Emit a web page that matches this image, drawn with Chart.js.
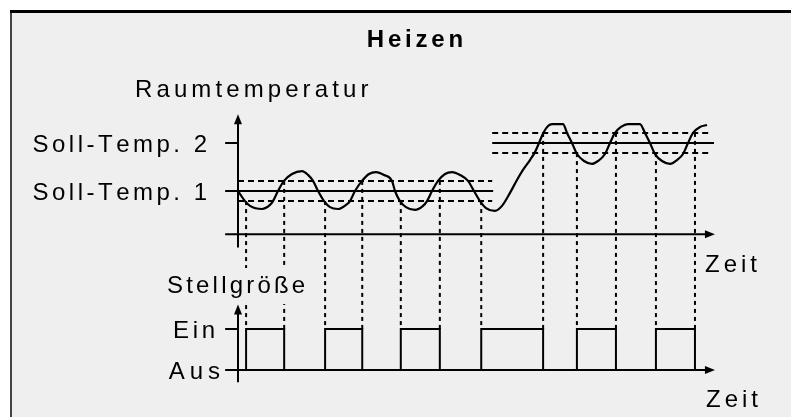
<!DOCTYPE html>
<html><head><meta charset="utf-8">
<script src="https://cdn.jsdelivr.net/npm/chart.js@4"></script>
<style>html,body{margin:0;padding:0;background:#fff;overflow:hidden}#wrap{width:791px;height:417px}</style>
</head><body><div id="wrap"><canvas id="c" width="791" height="417"></canvas></div>
<script>
// ---- text ----
const titleText = 'Heizen';
const tempAxisLabel = 'Raumtemperatur';
const signalAxisLabel = 'Stellgröße';
const timeAxisLabel = 'Zeit';
const setpointLabels = ['Soll-Temp. 1', 'Soll-Temp. 2'];
const signalLabels = ['Aus', 'Ein'];
const signalLevels = [0, 1];

// ---- setpoints (°C) and their time spans ----
const setpoints = [20, 22];
const setpointFrom = [0, 53.4];
const setpointTo = [53.6, 100];
const bandTo = [53.4, 99.2];
const hysteresis = 0.42;

// ---- room temperature curve ----
const curveTime = [0, 1.47, 2.52, 5.04, 6.72, 7.35, 8.40, 9.66, 11.34, 13.45, 14.71, 15.76, 16.81, 18.07, 19.33, 21.01, 22.69, 23.53, 24.58, 26.05, 27.52, 28.99, 30.67, 32.35, 32.98, 34.03, 35.29, 37.18, 38.87, 39.71, 40.76, 42.02, 43.49, 44.96, 46.64, 48.32, 49.58, 50.84, 52.10, 53.99, 55.46, 57.14, 58.61, 59.87, 61.34, 62.39, 63.24, 64.08, 65.13, 65.97, 68.28, 69.12, 70.17, 71.22, 72.69, 74.37, 75.63, 77.10, 78.15, 79.20, 80.46, 81.93, 84.45, 85.50, 86.55, 87.61, 89.08, 90.76, 92.23, 93.49, 94.54, 95.59, 97.06, 98.53];
const curveTemp = [20.00, 19.58, 19.38, 19.25, 19.42, 19.58, 20.00, 20.42, 20.71, 20.83, 20.67, 20.42, 20.00, 19.58, 19.33, 19.25, 19.42, 19.58, 20.00, 20.42, 20.71, 20.79, 20.67, 20.42, 20.00, 19.58, 19.33, 19.21, 19.38, 19.58, 20.00, 20.42, 20.71, 20.79, 20.67, 20.42, 20.00, 19.58, 19.29, 19.17, 19.38, 19.92, 20.46, 20.88, 21.29, 21.62, 22.00, 22.40, 22.71, 22.79, 22.79, 22.42, 22.00, 21.54, 21.25, 21.13, 21.25, 21.54, 22.00, 22.42, 22.67, 22.79, 22.79, 22.42, 22.00, 21.54, 21.25, 21.13, 21.29, 21.54, 22.00, 22.42, 22.67, 22.75];

// ---- control signal (Stellgröße) switching ----
const switchTime = [1.7, 9.7, 18.3, 26.1, 34.2, 42.4, 51.1, 64.1, 71.2, 79.4, 87.8, 96.0];
const switchState = [1, 0, 1, 0, 1, 0, 1, 0, 1, 0, 1, 0];

// ---- build datasets ----
const pts = (xs, ys) => xs.map((x, i) => ({x, y: ys[i]}));
const ink = '#000';
const datasets = [];
setpoints.forEach((sp, i) => {
  [-hysteresis, hysteresis].forEach(off => datasets.push({
    data: [{x: setpointFrom[i], y: sp + off}, {x: bandTo[i], y: sp + off}],
    yAxisID: 'yT', borderColor: ink, borderWidth: 2, borderDash: [6, 4], pointRadius: 0
  }));
  datasets.push({
    data: [{x: setpointFrom[i], y: sp}, {x: setpointTo[i], y: sp}],
    yAxisID: 'yT', borderColor: ink, borderWidth: 2, pointRadius: 0
  });
});
datasets.push({
  data: pts(curveTime, curveTemp), yAxisID: 'yT', borderColor: ink, borderWidth: 2.2,
  pointRadius: 0, cubicInterpolationMode: 'monotone'
});
datasets.push({
  data: [{x: 0, y: 0}].concat(pts(switchTime, switchState)), yAxisID: 'yS',
  borderColor: ink, borderWidth: 2, pointRadius: 0, stepped: 'before'
});

// ---- helpers ----
function textWidth(ctx, text, spacing) {
  const chars = [...text];
  return chars.reduce((a, c) => a + ctx.measureText(c).width, 0) + spacing * (chars.length - 1);
}
function spaced(ctx, text, x, y, spacing, align) {
  const chars = [...text];
  const w = textWidth(ctx, text, spacing);
  let sx = align === 'right' ? x - w : align === 'center' ? x - w / 2 : x;
  chars.forEach(c => { ctx.fillText(c, sx, y); sx += ctx.measureText(c).width + spacing; });
  return w;
}
function seg(ctx, x1, y1, x2, y2) { ctx.beginPath(); ctx.moveTo(x1, y1); ctx.lineTo(x2, y2); ctx.stroke(); }
function arrow(ctx, x, y, dir) {
  ctx.beginPath();
  if (dir === 'up') { ctx.moveTo(x, y); ctx.lineTo(x - 4, y + 10); ctx.lineTo(x + 4, y + 10); }
  else { ctx.moveTo(x, y); ctx.lineTo(x - 10, y - 4); ctx.lineTo(x - 10, y + 4); }
  ctx.closePath(); ctx.fill();
}

const diagram = {
  id: 'diagram',
  beforeDraw(chart) {
    const ctx = chart.ctx; const W = chart.width, H = chart.height;
    ctx.save();
    ctx.fillStyle = '#fff'; ctx.fillRect(0, 0, W, H);
    ctx.fillStyle = '#efefef'; ctx.fillRect(11, 12, W - 11, H - 12);
    ctx.fillStyle = '#444'; ctx.fillRect(10, 11, 2, H - 11);
    ctx.fillStyle = '#000'; ctx.fillRect(10, 10, W - 10, 3);
    ctx.restore();
  },
  beforeDatasetsDraw(chart) {
    const {ctx, scales: {x, yT, yS}} = chart;
    ctx.save();
    ctx.strokeStyle = ink; ctx.lineWidth = 2; ctx.setLineDash([4, 4]);
    switchTime.forEach((t, i) => {
      const k = t < setpointTo[0] ? 0 : 1;
      const thr = setpoints[k] + (switchState[i] === 1 ? -hysteresis : hysteresis);
      const px = x.getPixelForValue(t);
      seg(ctx, px, yT.getPixelForValue(thr), px, yS.getPixelForValue(1));
    });
    ctx.restore();
  },
  afterDatasetsDraw(chart) {
    const {ctx, scales: {x, yT, yS}} = chart;
    ctx.save();
    ctx.strokeStyle = ink; ctx.fillStyle = ink; ctx.lineWidth = 2; ctx.setLineDash([]);
    const x0 = x.getPixelForValue(0), xL = x.getPixelForValue(-2.7), xR = x.getPixelForValue(100.2);
    // upper panel axes
    const yTimeT = yT.getPixelForValue(18.2);
    seg(ctx, xL, yTimeT, xR - 8, yTimeT); arrow(ctx, xR, yTimeT, 'right');
    const yTipT = yT.getPixelForValue(23.2);
    seg(ctx, x0, yT.getPixelForValue(17.65), x0, yTipT + 8); arrow(ctx, x0, yTipT, 'up');
    setpoints.forEach(sp => seg(ctx, xL, yT.getPixelForValue(sp), x0, yT.getPixelForValue(sp)));
    // lower panel axes
    const yTimeS = yS.getPixelForValue(0);
    seg(ctx, xL, yTimeS, xR - 8, yTimeS); arrow(ctx, xR, yTimeS, 'right');
    const yTipS = yS.getPixelForValue(1.6);
    seg(ctx, x0, yS.getPixelForValue(-0.3), x0, yTipS + 8); arrow(ctx, x0, yTipS, 'up');
    seg(ctx, xL, yS.getPixelForValue(1), x0, yS.getPixelForValue(1));

    // texts
    const fam = '"Liberation Sans", Arial, sans-serif';
    const size = 24, cap = size * 0.716;
    ctx.textBaseline = 'alphabetic';
    ctx.font = `bold 24px ${fam}`;
    spaced(ctx, titleText, 415, 47, 3.8, 'center');
    ctx.font = `${size}px ${fam}`;
    spaced(ctx, tempAxisLabel, 135, 97, 4.1, 'left');
    setpointLabels.forEach((lab, i) => spaced(ctx, lab, 207, yT.getPixelForValue(setpoints[i]) + cap / 2, 3.5, 'right'));
    spaced(ctx, timeAxisLabel, 705, yTimeT + 38, 4, 'left');
    spaced(ctx, timeAxisLabel, 706, yTimeS + 37, 4, 'left');
    signalLabels.forEach((lab, i) => spaced(ctx, lab, i === 0 ? 220 : 215, yS.getPixelForValue(signalLevels[i]) + cap / 2, i === 0 ? 5 : 3.6, 'right'));
    // signal label with background box masking the guide lines
    const m = textWidth(ctx, signalAxisLabel, 3.2);
    ctx.fillStyle = '#efefef';
    ctx.fillRect(165, 268, m + 4, 36);
    ctx.fillStyle = ink;
    spaced(ctx, signalAxisLabel, 167, 293, 3.2, 'left');
    ctx.restore();
  }
};

new Chart(document.getElementById('c'), {
  type: 'line',
  data: {datasets},
  options: {
    responsive: false, animation: false, devicePixelRatio: 1,
    layout: {padding: 0, autoPadding: false},
    plugins: {legend: {display: false}, tooltip: {enabled: false}, title: {display: false}},
    scales: {
      x: {type: 'linear', display: false, min: -238 / 4.76, max: (791 - 238) / 4.76},
      yT: {type: 'linear', display: false, min: 20 - 226 / 24, max: 20 + 191 / 24},
      yS: {type: 'linear', display: false, min: -47 / 41, max: 370 / 41}
    }
  },
  plugins: [diagram]
});
</script></body></html>
